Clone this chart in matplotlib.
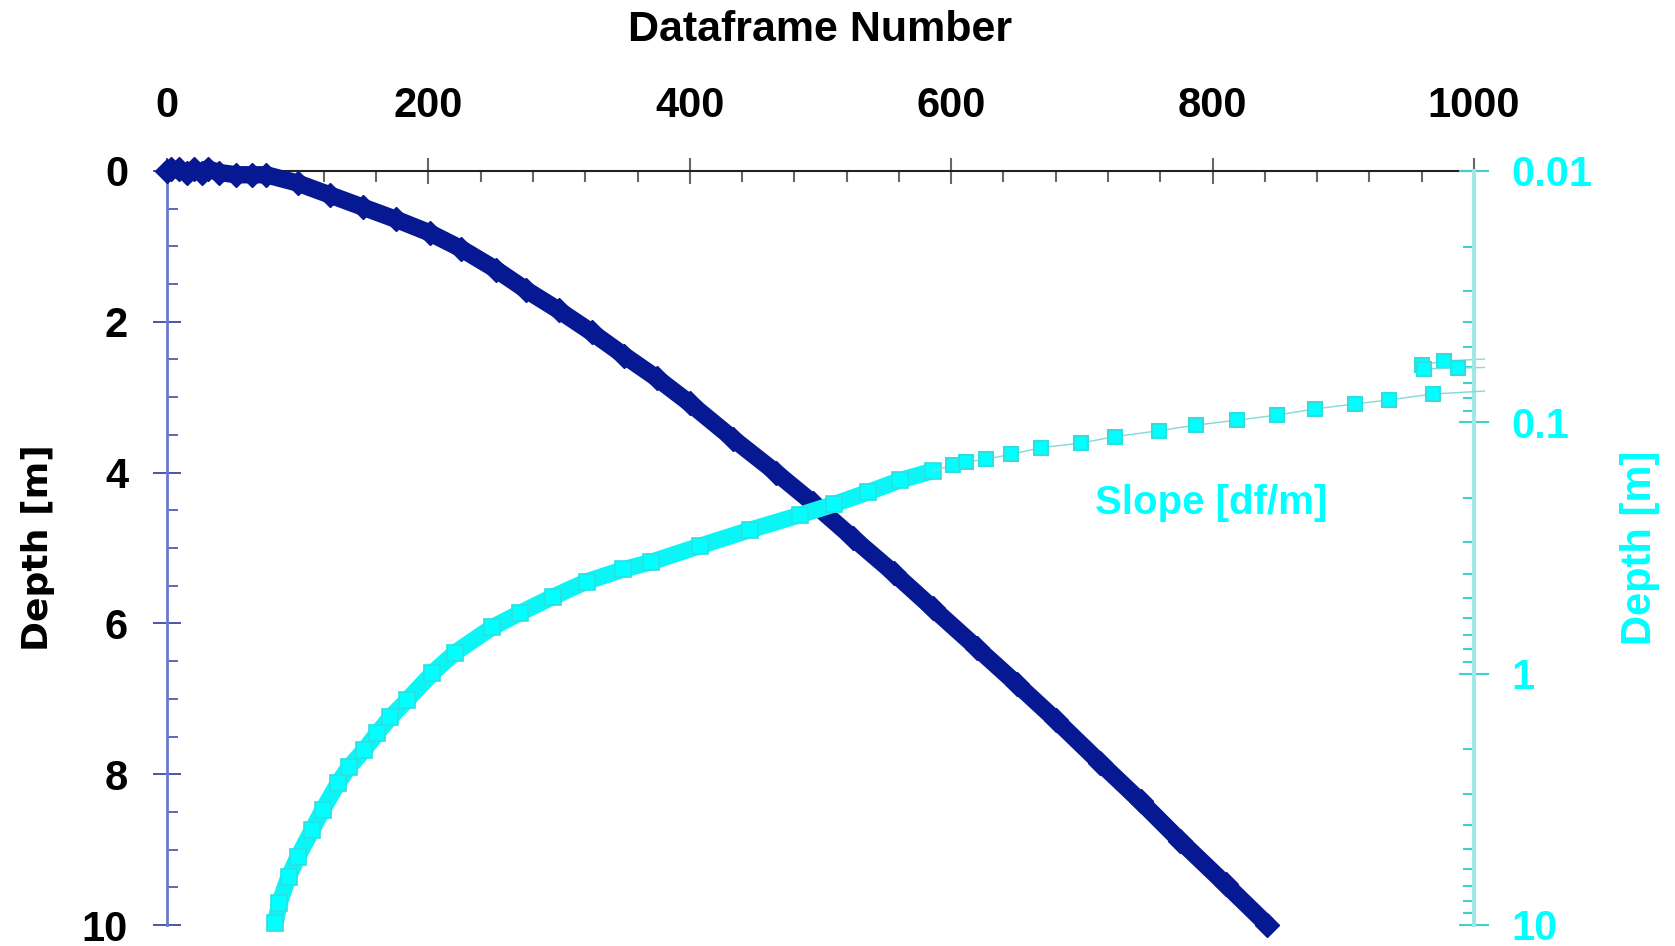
import matplotlib
matplotlib.use('Agg')
import matplotlib.pyplot as plt
from matplotlib.ticker import MultipleLocator, LogLocator, NullFormatter, FixedFormatter, FixedLocator

plt.rcParams['font.family'] = ['Liberation Sans', 'DejaVu Sans']
plt.rcParams['font.weight'] = 'bold'

# depth vs dataframe (left axis)
blue_df = [0, 3, 9, 15, 21, 27, 31, 40, 53, 65, 76, 100, 125, 150, 175, 201, 225,
           252, 275, 300, 325, 350, 375, 400, 433, 466, 494, 525, 556, 586, 620,
           650, 680, 714, 745, 775, 810, 842]
blue_depth = [0.0, -0.02, -0.02, 0.02, -0.02, 0.02, -0.03, 0.02, 0.05, 0.05, 0.05,
              0.16, 0.32, 0.48, 0.64, 0.82, 1.03, 1.31, 1.58, 1.85, 2.14, 2.45,
              2.75, 3.08, 3.55, 4.00, 4.40, 4.87, 5.33, 5.80, 6.33, 6.80, 7.28,
              7.85, 8.36, 8.88, 9.46, 10.0]

# slope [df/m] (right log axis), dense part
cyan_df = [83, 86, 93, 100, 111, 119, 131, 139, 151, 161, 171, 184, 203, 220,
           249, 270, 295, 321, 349, 370, 408, 446, 484, 510, 536, 561, 586]
cyan_slope = [9.8, 8.18, 6.44, 5.37, 4.19, 3.49, 2.72, 2.36, 2.01, 1.72, 1.49,
              1.27, 0.995, 0.828, 0.653, 0.574, 0.495, 0.43, 0.385, 0.36, 0.31,
              0.268, 0.234, 0.212, 0.19, 0.17, 0.156]

# sparse part
sparse_df = [586, 601, 611, 627, 646, 669, 699, 725, 759, 787, 819, 849, 878, 909, 935, 969, 1008]
sparse_slope = [0.156, 0.148, 0.144, 0.140, 0.134, 0.126, 0.121, 0.114, 0.108, 0.1026,
                0.098, 0.0936, 0.0885, 0.0845, 0.0814, 0.0771, 0.0751]

# points near the right edge
edge_a_df = [960, 977, 1008]
edge_a_slope = [0.0592, 0.0570, 0.0560]
edge_b_df = [962, 988, 1008]
edge_b_slope = [0.0613, 0.0608, 0.0605]

navy = '#061993'
cyan = '#00ffff'
cyan_edge = '#30dede'

fig = plt.figure(figsize=(16.75, 9.46), dpi=100)
ax = fig.add_axes([167/1675, 1-925/946, (1474-167)/1675, (925-171)/946])

ax.plot(blue_df, blue_depth, color=navy, lw=12.5, solid_capstyle='butt',
        marker='D', ms=12, mfc=navy, mec=navy, clip_on=False, zorder=3)

ax.set_xlim(0, 1000)
ax.set_ylim(10, 0)
ax.xaxis.tick_top()
ax.xaxis.set_label_position('top')
ax.set_xticks(range(0, 1001, 200))
ax.xaxis.set_minor_locator(MultipleLocator(40))
ax.set_yticks(range(0, 11, 2))
ax.yaxis.set_minor_locator(MultipleLocator(0.5))

ax.tick_params(axis='x', which='major', direction='inout', length=19, width=1.5,
               color='#666666', labelsize=30, pad=23)
ax.tick_params(axis='x', which='minor', direction='in', length=8, width=1.5, color='#666666')
ax.tick_params(axis='y', which='major', direction='inout', length=20, width=1.2,
               color='#2a3aa0', labelsize=30, pad=18)
ax.tick_params(axis='y', which='minor', direction='in', length=8, width=1.2, color='#4050b0')

ax.spines['bottom'].set_visible(False)
ax.spines['top'].set_color('#222222')
ax.spines['top'].set_linewidth(1.5)
ax.spines['left'].set_color('#6a78c8')
ax.spines['left'].set_linewidth(2)
ax.spines['right'].set_color('#b8bde8')
ax.spines['right'].set_linewidth(1)

ax.set_xlabel('Dataframe Number', fontsize=31, fontweight='bold', labelpad=32)
ax.set_ylabel('Depth [m]', fontsize=26, fontweight='bold', family=['DejaVu Sans'], labelpad=19)

ax2 = ax.twinx()
ax2.set_yscale('log')
ax2.plot(cyan_df, cyan_slope, color='#0af6f6', lw=12, solid_capstyle='butt',
         marker='s', ms=11.5, mfc=cyan, mec=cyan_edge, mew=1.2, clip_on=False, zorder=3)
ax2.plot(sparse_df, sparse_slope, color='#7fdada', lw=1,
         marker='s', ms=10.5, mfc=cyan, mec=cyan_edge, mew=1.5, markevery=list(range(1, 16)),
         clip_on=False, zorder=3)
ax2.plot(edge_a_df, edge_a_slope, color='#7fdada', lw=1, marker='s', ms=10.5, mfc=cyan,
         mec=cyan_edge, mew=1.5, markevery=[0, 1], clip_on=False)
ax2.plot(edge_b_df, edge_b_slope, color='#7fdada', lw=1, marker='s', ms=10.5, mfc=cyan,
         mec=cyan_edge, mew=1.5, markevery=[0, 1], clip_on=False)

ax2.set_xlim(0, 1000)
ax2.set_ylim(10, 0.01)
ax2.yaxis.set_major_locator(FixedLocator([0.01, 0.1, 1, 10]))
ax2.yaxis.set_major_formatter(FixedFormatter(['0.01', '0.1', '1', '10']))
ax2.yaxis.set_minor_locator(LogLocator(base=10, subs=range(2, 10)))
ax2.yaxis.set_minor_formatter(NullFormatter())
ax2.tick_params(axis='y', which='major', direction='inout', length=22, width=1.5,
                color='#40d0d0', labelsize=30, labelcolor=cyan, pad=16)
ax2.tick_params(axis='y', which='minor', direction='in', length=8, width=1.5, color='#40d0d0')
for s in ['top', 'bottom', 'left']:
    ax2.spines[s].set_visible(False)
ax2.spines['right'].set_color('#a0e8e8')
ax2.spines['right'].set_linewidth(3)
ax2.set_ylabel('Depth [m]', fontsize=30, fontweight='bold', color=cyan, labelpad=20)

for lab in ax.get_xticklabels() + ax.get_yticklabels() + ax2.get_yticklabels():
    lab.set_fontweight('bold')

ax2.text(799, 0.2095, 'Slope [df/m]', color=cyan, fontsize=29, fontweight='bold',
         ha='center', va='center')

fig.savefig('out.png', dpi=100)
